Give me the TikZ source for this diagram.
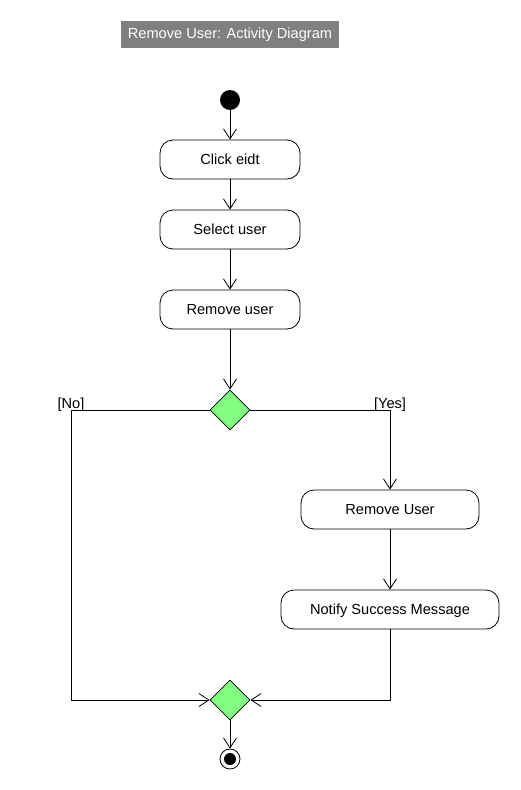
\documentclass[tikz,border=0pt]{standalone}
\usepackage{fontspec}
\setmainfont{Liberation Sans}
\usetikzlibrary{arrows.meta,shapes.geometric}
\definecolor{titlegray}{HTML}{808080}
\definecolor{decgreen}{HTML}{80FF80}
\tikzset{
  txt/.style={font=\fontsize{14.6}{17}\selectfont},
  act/.style={draw, line width=0.8pt, rounded corners=13pt, minimum height=39pt, inner sep=0pt, txt, text height=9pt, text depth=0pt},
  dec/.style={draw, line width=0.8pt, diamond, fill=decgreen, minimum width=40pt, minimum height=40pt, inner sep=0pt},
  flow/.style={draw, line width=0.8pt, -{Straight Barb[length=10pt,width=13pt,line width=0.8pt]}},
  guard/.style={txt, inner sep=0pt, anchor=base},
}
\begin{document}
\begin{tikzpicture}[x=1pt,y=-1pt]
\useasboundingbox (0,0) rectangle (520,790);
\node[fill=titlegray, text=white, minimum width=218pt, minimum height=27pt, inner sep=0pt, txt] (title) at (230,34.5) {Remove User: Activity Diagram};
\node[circle, fill=black, minimum size=20pt, inner sep=0pt] (start) at (230,100) {};
\node[act, minimum width=140pt] (click) at (230,159.5) {Click eidt};
\node[act, minimum width=140pt] (select) at (230,229.5) {Select user};
\node[act, minimum width=140pt] (remove) at (230,309.5) {Remove user};
\node[dec] (d1) at (230,410) {};
\node[act, minimum width=178pt] (removeU) at (390,509.5) {Remove User};
\node[act, minimum width=218pt] (notify) at (390,609.5) {Notify Success Message};
\node[dec] (d2) at (230,700) {};
\node[circle, draw, line width=0.8pt, minimum size=20pt, inner sep=0pt] (end) at (230,759) {};
\node[circle, fill=black, minimum size=12pt, inner sep=0pt] (endin) at (230,759) {};
\coordinate (cl) at (71,410);
\coordinate (cr) at (390,410);
\coordinate (bl) at (71,700);
\coordinate (br) at (390,700);
\draw[flow] (start) -- (click);
\draw[flow] (click) -- (select);
\draw[flow] (select) -- (remove);
\draw[flow] (remove) -- (d1.north);
\draw[flow] (d1.east) -- (cr) -- (removeU.north);
\draw[flow] (removeU) -- (notify);
\draw[flow] (notify.south) -- (br) -- (d2.east);
\draw[flow] (d1.west) -- (cl) -- (bl) -- (d2.west);
\draw[flow] (d2.south) -- (end.north);
\node[guard] (no) at (71,408) {[No]};
\node[guard] (yes) at (390,408) {[Yes]};
\end{tikzpicture}
\end{document}
